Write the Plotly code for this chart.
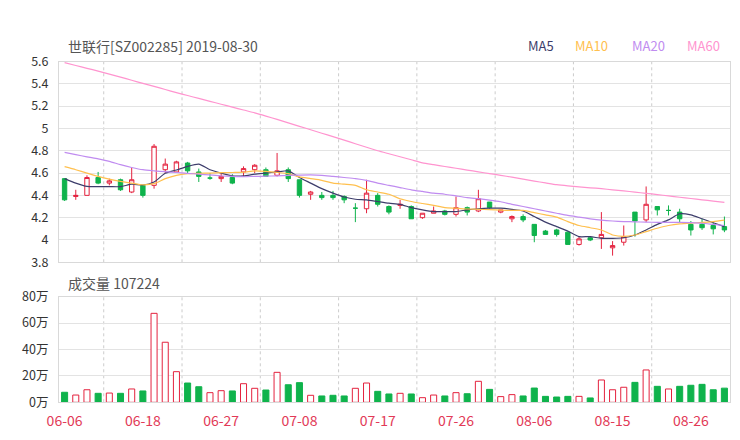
import plotly.graph_objects as go

# ---------------- data ----------------
dates = ["06-06", "06-10", "06-11", "06-12", "06-13", "06-14", "06-17", "06-18", "06-19", "06-20",
         "06-21", "06-24", "06-25", "06-26", "06-27", "06-28", "07-01", "07-02", "07-03", "07-04",
         "07-05", "07-08", "07-09", "07-10", "07-11", "07-12", "07-15", "07-16", "07-17", "07-18",
         "07-19", "07-22", "07-23", "07-24", "07-25", "07-26", "07-29", "07-30", "07-31", "08-01",
         "08-02", "08-05", "08-06", "08-07", "08-08", "08-09", "08-12", "08-13", "08-14", "08-15",
         "08-16", "08-19", "08-20", "08-21", "08-22", "08-23", "08-26", "08-27", "08-28", "08-29"]

open_ = [4.55, 4.39, 4.40, 4.56, 4.51, 4.54, 4.43, 4.49, 4.49, 4.63,
         4.61, 4.69, 4.61, 4.555, 4.55, 4.56, 4.61, 4.63, 4.63, 4.58,
         4.63, 4.54, 4.41, 4.40, 4.40, 4.39, 4.285, 4.28, 4.40, 4.30,
         4.31, 4.30, 4.20, 4.24, 4.26, 4.23, 4.29, 4.26, 4.34, 4.25,
         4.19, 4.21, 4.14, 4.08, 4.09, 4.07, 3.96, 4.02, 4.02, 3.93,
         3.98, 4.25, 4.18, 4.30, 4.265, 4.25, 4.14, 4.14, 4.13, 4.12]
high = [4.55, 4.45, 4.58, 4.61, 4.55, 4.55, 4.65, 4.49, 4.86, 4.73,
        4.71, 4.70, 4.64, 4.60, 4.60, 4.59, 4.66, 4.68, 4.65, 4.78,
        4.65, 4.54, 4.44, 4.43, 4.44, 4.40, 4.33, 4.54, 4.42, 4.31,
        4.36, 4.31, 4.24, 4.30, 4.27, 4.39, 4.30, 4.45, 4.34, 4.27,
        4.22, 4.23, 4.14, 4.09, 4.10, 4.08, 4.03, 4.03, 4.25, 3.99,
        4.13, 4.25, 4.48, 4.30, 4.31, 4.28, 4.17, 4.19, 4.16, 4.21]
low = [4.35, 4.36, 4.40, 4.50, 4.49, 4.44, 4.42, 4.38, 4.46, 4.60,
       4.61, 4.60, 4.52, 4.54, 4.52, 4.50, 4.57, 4.60, 4.57, 4.57,
       4.52, 4.38, 4.36, 4.36, 4.36, 4.33, 4.16, 4.24, 4.30, 4.23,
       4.28, 4.19, 4.19, 4.24, 4.22, 4.21, 4.22, 4.25, 4.28, 4.24,
       4.16, 4.16, 3.98, 4.05, 4.03, 3.96, 3.95, 3.99, 3.92, 3.86,
       3.95, 4.03, 4.16, 4.22, 4.22, 4.16, 4.04, 4.09, 4.05, 4.07]
close = [4.36, 4.40, 4.56, 4.51, 4.53, 4.45, 4.54, 4.40, 4.84, 4.68,
         4.70, 4.62, 4.57, 4.555, 4.57, 4.51, 4.64, 4.67, 4.57, 4.62,
         4.55, 4.40, 4.43, 4.38, 4.38, 4.36, 4.285, 4.42, 4.32, 4.25,
         4.32, 4.19, 4.24, 4.26, 4.23, 4.29, 4.25, 4.37, 4.29, 4.27,
         4.21, 4.18, 4.04, 4.05, 4.05, 3.96, 4.01, 4.00, 4.05, 3.95,
         4.03, 4.17, 4.32, 4.27, 4.265, 4.19, 4.09, 4.11, 4.10, 4.09]

# volume in units of 万
volume = [7.6, 5.5, 9.5, 6.8, 7.0, 6.8, 10.1, 8.6, 67.4, 45.5,
          23.2, 14.6, 11.8, 7.3, 8.8, 8.6, 14.1, 10.6, 9.3, 22.7,
          13.3, 14.9, 5.3, 4.8, 5.3, 4.8, 10.6, 14.6, 8.3, 6.3,
          6.8, 6.3, 3.5, 5.5, 4.8, 7.3, 6.5, 15.9, 9.8, 4.3,
          5.8, 4.8, 10.8, 4.5, 4.0, 4.5, 4.5, 3.3, 16.9, 9.5,
          11.4, 15.1, 24.5, 12.1, 10.1, 12.1, 12.9, 13.6, 9.5, 10.7224]

ma5 = [4.55, 4.51, 4.48, 4.478, 4.478, 4.478, 4.50, 4.493, 4.52, 4.598,
       4.627, 4.66, 4.68, 4.63, 4.60, 4.575, 4.575, 4.59, 4.60, 4.61,
       4.62, 4.56, 4.51, 4.46, 4.42, 4.385, 4.365, 4.36, 4.345, 4.33,
       4.32, 4.29, 4.27, 4.255, 4.254, 4.255, 4.27, 4.28, 4.285, 4.285,
       4.275, 4.26, 4.21, 4.16, 4.12, 4.08, 4.03, 4.03, 4.015, 4.015,
       4.02, 4.045, 4.09, 4.14, 4.18, 4.235, 4.225, 4.19, 4.155, 4.12]
ma10 = [4.657, 4.63, 4.60, 4.57, 4.545, 4.525, 4.51, 4.495, 4.505, 4.55,
        4.58, 4.595, 4.598, 4.60, 4.603, 4.605, 4.607, 4.62, 4.615, 4.605,
        4.595, 4.565, 4.55, 4.535, 4.51, 4.50, 4.49, 4.45, 4.43, 4.41,
        4.37, 4.345, 4.327, 4.31, 4.29, 4.285, 4.278, 4.275, 4.272, 4.268,
        4.265, 4.265, 4.245, 4.225, 4.205, 4.165, 4.13, 4.11, 4.09, 4.045,
        4.032, 4.045, 4.075, 4.105, 4.13, 4.145, 4.152, 4.157, 4.165, 4.178]
ma20 = [4.786, 4.765, 4.745, 4.727, 4.705, 4.675, 4.65, 4.63, 4.62, 4.612,
        4.605, 4.598, 4.59, 4.583, 4.575, 4.57, 4.567, 4.57, 4.572, 4.575,
        4.58, 4.582, 4.583, 4.58, 4.57, 4.56, 4.55, 4.535, 4.51, 4.49,
        4.47, 4.45, 4.435, 4.42, 4.41, 4.395, 4.38, 4.37, 4.358, 4.343,
        4.32, 4.30, 4.28, 4.26, 4.24, 4.22, 4.205, 4.19, 4.178, 4.17,
        4.165, 4.163, 4.16, 4.158, 4.158, 4.158, 4.155, 4.15, 4.14, 4.13]
ma60 = [5.59, 5.564, 5.539, 5.514, 5.487, 5.46, 5.432, 5.404, 5.377, 5.349,
        5.321, 5.295, 5.269, 5.243, 5.217, 5.191, 5.165, 5.14, 5.111, 5.081,
        5.05, 5.019, 4.988, 4.957, 4.927, 4.895, 4.863, 4.831, 4.80, 4.773,
        4.746, 4.719, 4.692, 4.675, 4.659, 4.643, 4.627, 4.611, 4.595, 4.58,
        4.563, 4.545, 4.528, 4.512, 4.496, 4.485, 4.476, 4.468, 4.46, 4.45,
        4.44, 4.429, 4.418, 4.407, 4.395, 4.383, 4.372, 4.36, 4.349, 4.338]

title_text = "世联行[SZ002285] 2019-08-30"
vol_label = "成交量 107224"
ma_names = ["MA5", "MA10", "MA20", "MA60"]
ma_colors = ["#3d3d6b", "#ffc04f", "#c08cf0", "#ff94cf"]
vol_ticks = [0, 20, 40, 60, 80]
vol_ticktext = ["0万", "20万", "40万", "60万", "80万"]

# ---------------- styling ----------------
RED = "#e4223e"
GREEN = "#0fb34c"
FONT = "Noto Sans CJK SC"
W, H = 740, 440
x_dom = [59 / W, 730 / W]
price_dom = [(H - 262.3) / H, (H - 61.5) / H]
vol_dom = [(H - 402.3) / H, (H - 296.7) / H]

fig = go.Figure()

idx_main = [i for i in range(len(dates)) if open_[i] != close[i]]
idx_doji = [i for i in range(len(dates)) if open_[i] == close[i]]

def pick(arr, idx):
    return [arr[i] for i in idx]

fig.add_trace(go.Candlestick(
    x=pick(dates, idx_main), open=pick(open_, idx_main), high=pick(high, idx_main),
    low=pick(low, idx_main), close=pick(close, idx_main),
    increasing=dict(line=dict(color=RED, width=1), fillcolor="white"),
    decreasing=dict(line=dict(color=GREEN, width=1), fillcolor=GREEN),
    whiskerwidth=0, xaxis="x", yaxis="y", showlegend=False, hoverinfo="skip"))
fig.add_trace(go.Candlestick(
    x=pick(dates, idx_doji), open=pick(open_, idx_doji), high=pick(high, idx_doji),
    low=pick(low, idx_doji), close=pick(close, idx_doji),
    increasing=dict(line=dict(color=GREEN, width=1), fillcolor=GREEN),
    decreasing=dict(line=dict(color=GREEN, width=1), fillcolor=GREEN),
    whiskerwidth=0, xaxis="x", yaxis="y", showlegend=False, hoverinfo="skip"))

for name, vals, col in zip(ma_names, [ma5, ma10, ma20, ma60], ma_colors):
    fig.add_trace(go.Scatter(x=dates, y=vals, mode="lines", name=name,
                             line=dict(color=col, width=1.2, shape="spline", smoothing=0.6),
                             xaxis="x", yaxis="y", showlegend=False, hoverinfo="skip"))

up = [close[i] >= open_[i] for i in range(len(dates))]
fig.add_trace(go.Bar(
    x=dates, y=volume, width=0.54,
    marker=dict(color=["white" if u else GREEN for u in up],
                line=dict(color=[RED if u else GREEN for u in up], width=1)),
    xaxis="x2", yaxis="y2", showlegend=False, hoverinfo="skip"))

shapes = []
for k in range(8):
    xv = 3.5 + 7 * k
    for xr, yr in (("x", "y domain"), ("x2", "y2 domain")):
        shapes.append(dict(type="line", xref=xr, yref=yr, x0=xv, x1=xv, y0=0, y1=1,
                           line=dict(color="#cccccc", width=1, dash="3px,3px"), layer="below"))

axis_common = dict(showline=True, mirror=True, linecolor="#d9d9d9", linewidth=1,
                   zeroline=False)

fig.update_layout(
    width=W, height=H,
    margin=dict(l=0, r=0, t=0, b=0),
    paper_bgcolor="white", plot_bgcolor="white",
    font=dict(family=FONT, size=12, color="#333"),
    boxgap=0.44,
    bargap=0.4,
    shapes=shapes,
    xaxis=dict(domain=x_dom, anchor="y", type="category", categoryorder="array",
               categoryarray=dates, range=[-0.5, len(dates) - 0.5],
               showticklabels=False, showgrid=False, ticks="",
               rangeslider=dict(visible=False), **axis_common),
    yaxis=dict(domain=price_dom, anchor="x", range=[3.8, 5.6], tick0=3.8, dtick=0.2,
               showgrid=True, gridcolor="#e3e3e3", gridwidth=1, ticks="",
               ticklabelstandoff=7, tickfont=dict(size=12.5, color="#333"),
               automargin=False, **axis_common),
    xaxis2=dict(domain=x_dom, anchor="y2", type="category", categoryorder="array",
                categoryarray=dates, range=[-0.5, len(dates) - 0.5],
                tickmode="array", tickvals=dates[::7], ticktext=dates[::7],
                showgrid=False, ticks="", ticklabelstandoff=6,
                tickfont=dict(size=14, color="#e23a57"), automargin=False,
                **axis_common),
    yaxis2=dict(domain=vol_dom, anchor="x2", range=[0, 80], tickmode="array",
                tickvals=vol_ticks, ticktext=vol_ticktext,
                showgrid=True, gridcolor="#e3e3e3", gridwidth=1, ticks="",
                ticklabelstandoff=7, tickfont=dict(size=12.5, color="#333"),
                automargin=False, **axis_common),
    annotations=[
        dict(text=title_text, x=66 / W, y=(H - 46) / H, xref="paper", yref="paper",
             xanchor="left", yanchor="middle", showarrow=False,
             font=dict(size=14, color="#555", family=FONT)),
        dict(text=vol_label, x=66 / W, y=(H - 283) / H, xref="paper", yref="paper",
             xanchor="left", yanchor="middle", showarrow=False,
             font=dict(size=14, color="#555", family=FONT)),
    ] + [
        dict(text=n, x=cx / W, y=(H - 46) / H, xref="paper", yref="paper",
             xanchor="center", yanchor="middle", showarrow=False,
             font=dict(size=13, color=c, family=FONT))
        for n, c, cx in zip(ma_names, ma_colors, [541, 591, 648, 703])
    ],
)

fig.write_html("out.html", config={"displayModeBar": False},
               post_script="document.body.style.margin='0px';")
